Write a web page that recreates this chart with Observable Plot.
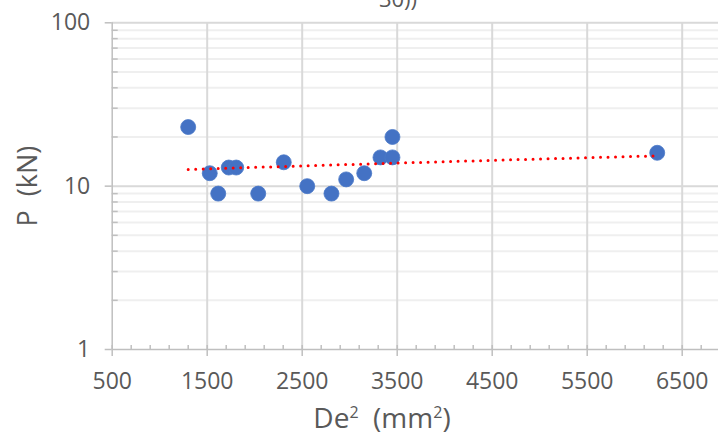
<!DOCTYPE html>
<html><head><meta charset="utf-8">
<script src="https://cdn.jsdelivr.net/npm/d3@7"></script>
<script src="https://cdn.jsdelivr.net/npm/@observablehq/plot@0.6"></script>
<style>
html,body{margin:0;padding:0;background:#fff;overflow:hidden}
</style></head><body><div id="chart"></div>
<script>
// Data
const de2 = [1300, 1527, 1616, 1727, 1805, 2037, 2306, 2553, 2808, 2963, 3153, 3324, 3450, 3450, 6237];
const pKN = [23, 12, 9, 13, 13, 9, 14, 10, 9, 11, 12, 15, 15, 20, 16];

// Tick values
const xMajorTicks = [500, 1500, 2500, 3500, 4500, 5500, 6500];
const xMinorTicks = [700, 900, 1100, 1300, 1700, 1900, 2100, 2300, 2700, 2900, 3100, 3300,
  3700, 3900, 4100, 4300, 4700, 4900, 5100, 5300, 5700, 5900, 6100, 6300, 6700];
const yMajorTicks = [1, 10, 100];
const yMinorTicks = [2, 3, 4, 5, 6, 7, 8, 9, 20, 30, 40, 50, 60, 70, 80, 90];

// Texts
const yTitle = "P\u00a0\u00a0(kN)";
const titleFragment = "30))";

const points = de2.map((x, i) => ({x, y: pKN[i]}));

// Linear trendline (least squares), drawn on the log axis
const mx = d3.mean(de2), my = d3.mean(pKN);
const slope = d3.sum(de2, (x, i) => (x - mx) * (pKN[i] - my)) / d3.sum(de2, x => (x - mx) ** 2);
const intercept = my - slope * mx;
const [xa, xb] = d3.extent(de2);
const trend = d3.range(0, 121).map(k => {
  const x = xa + (xb - xa) * k / 120;
  return {x, y: intercept + slope * x};
});

const W = 718, H = 435, ML = 111.7, MT = 22.3, MB = 86, MR = 0;
const xMax = 500 + (W - ML) / 0.095;
const FONT = "'Open Sans', sans-serif";
const AX = "#bfbfbf", TXT = "#595959";
const blank = () => "";

const chart = Plot.plot({
  width: W, height: H,
  marginLeft: ML, marginTop: MT, marginBottom: MB, marginRight: MR,
  style: {fontFamily: FONT, background: "#fff", color: TXT, overflow: "visible"},
  x: {domain: [500, xMax], label: null},
  y: {type: "log", domain: [1, 100], label: null},
  marks: [
    Plot.ruleY(yMinorTicks, {stroke: "#efefef", strokeWidth: 2}),
    Plot.ruleY([10, 100], {stroke: "#d9d9d9", strokeWidth: 2}),
    Plot.ruleX(xMajorTicks.filter(d => d > 500), {stroke: "#d9d9d9", strokeWidth: 2}),
    Plot.ruleX([500], {stroke: AX, strokeWidth: 1.5}),
    Plot.ruleY([1], {stroke: AX, strokeWidth: 1.5}),
    Plot.axisY(yMinorTicks, {tickSize: 6, dx: 6, stroke: AX, strokeWidth: 1.5, tickFormat: blank, label: null}),
    Plot.axisY(yMajorTicks, {tickSize: 7, tickPadding: 15, stroke: AX, strokeWidth: 1.5, fontSize: 23, tickFormat: d => String(d), label: null}),
    Plot.axisX(xMinorTicks, {tickSize: 4, dy: -4, stroke: AX, strokeWidth: 1.5, tickFormat: blank, label: null}),
    Plot.axisX(xMajorTicks, {tickSize: 11, dy: -4, stroke: AX, strokeWidth: 1.5, tickFormat: blank, label: null}),
    Plot.axisX(xMajorTicks, {tickSize: 0, tickPadding: 23, fontSize: 23, tickFormat: d => String(d), label: null}),
    Plot.dot(points, {x: "x", y: "y", r: 7.5, fill: "#4472c4", stroke: "#4a78c8", strokeWidth: 0.8}),
    Plot.line(trend, {x: "x", y: "y", stroke: "#ff0000", strokeWidth: 3, strokeDasharray: "0,7.5", strokeLinecap: "round"}),
    Plot.text([yTitle], {frameAnchor: "left", textAnchor: "middle", lineAnchor: "middle", rotate: -90, dx: -83.7, fontSize: 27, fill: TXT})
  ]
});

document.getElementById("chart").appendChild(chart);

const svg = d3.select(chart);
// axis tick labels colour
svg.selectAll("[aria-label='y-axis tick label'], [aria-label='x-axis tick label']").attr("fill", TXT);

// x axis title with superscripts
const xt = svg.append("text")
  .attr("x", 382).attr("y", 428)
  .attr("font-family", FONT).attr("font-size", 28).attr("fill", TXT);
xt.append("tspan").text("De");
xt.append("tspan").attr("font-size", 16).attr("dy", -10).text("2");
xt.append("tspan").attr("dy", 10).text("\u00a0\u00a0(mm");
xt.append("tspan").attr("font-size", 16).attr("dy", -10).text("2");
xt.append("tspan").attr("dy", 10).text(")");

// cut-off title fragment at the top (cropped in the reference too)
svg.append("text")
  .attr("x", 398).attr("y", 7)
  .attr("font-family", FONT).attr("font-size", 22).attr("fill", TXT)
  .text(titleFragment);
</script>
</body></html>
